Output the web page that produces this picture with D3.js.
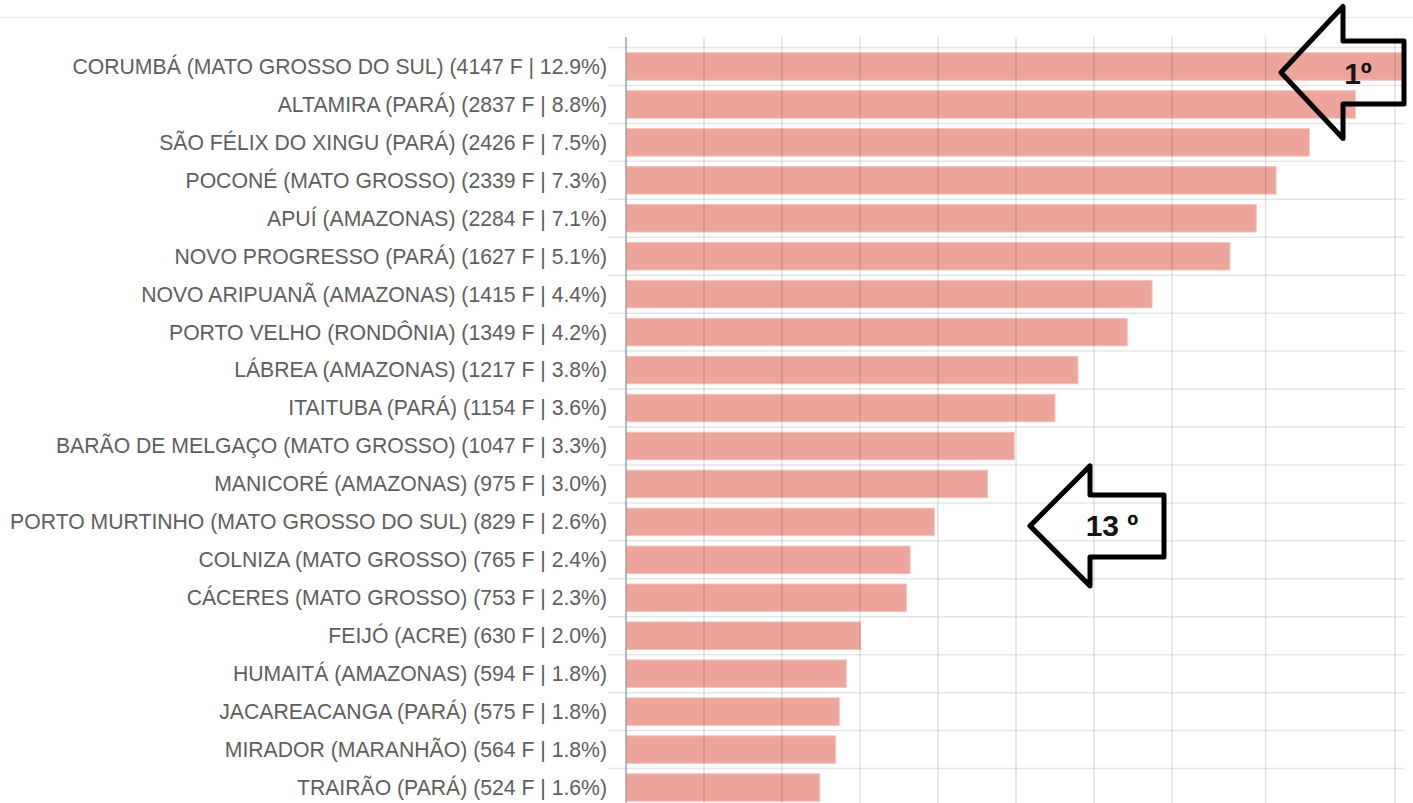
<!DOCTYPE html>
<html>
<head>
<meta charset="utf-8">
<script src="https://cdn.jsdelivr.net/npm/d3@7"></script>
<style>
  html, body { margin: 0; padding: 0; background: #fff; }
  svg { display: block; }
</style>
</head>
<body>
<svg id="chart" width="1413" height="803"></svg>
<script>
// ---- data ----
const places = [
  "CORUMBÁ (MATO GROSSO DO SUL)", "ALTAMIRA (PARÁ)", "SÃO FÉLIX DO XINGU (PARÁ)",
  "POCONÉ (MATO GROSSO)", "APUÍ (AMAZONAS)", "NOVO PROGRESSO (PARÁ)",
  "NOVO ARIPUANÃ (AMAZONAS)", "PORTO VELHO (RONDÔNIA)", "LÁBREA (AMAZONAS)",
  "ITAITUBA (PARÁ)", "BARÃO DE MELGAÇO (MATO GROSSO)", "MANICORÉ (AMAZONAS)",
  "PORTO MURTINHO (MATO GROSSO DO SUL)", "COLNIZA (MATO GROSSO)", "CÁCERES (MATO GROSSO)",
  "FEIJÓ (ACRE)", "HUMAITÁ (AMAZONAS)", "JACAREACANGA (PARÁ)",
  "MIRADOR (MARANHÃO)", "TRAIRÃO (PARÁ)"
];
const fires = [4147, 2837, 2426, 2339, 2284, 1627, 1415, 1349, 1217, 1154,
               1047, 975, 829, 765, 753, 630, 594, 575, 564, 524];
const shares = ["12.9", "8.8", "7.5", "7.3", "7.1", "5.1", "4.4", "4.2", "3.8", "3.6",
                "3.3", "3.0", "2.6", "2.4", "2.3", "2.0", "1.8", "1.8", "1.8", "1.6"];
// bar lengths (axis units)
const barValues = [5000, 4675, 4380, 4167, 4040, 3871, 3372, 3213, 2897, 2750,
                   2489, 2317, 1976, 1821, 1797, 1504, 1412, 1367, 1344, 1242];
const gridTicks = [500, 1000, 1500, 2000, 2500, 3000, 3500, 4100, 4930];
const rankMarks = [{idx: 0, text: "1º"}, {idx: 12, text: "13 º"}];

// ---- layout ----
const svg = d3.select("#chart");
const x0 = 626, xEnd = 1405, yTop = 37, yBottom = 803;
const labels = places.map((p, i) => `${p} (${fires[i]} F | ${shares[i]}%)`);

const x = d3.scaleLinear().domain([0, 5000]).range([x0, x0 + 780]);
const y = d3.scaleBand().domain(labels).range([47.5, 806.5]).paddingInner(0.275).paddingOuter(0.1375);
const step = y.step(), halfGap = step * y.paddingInner() / 2;

// faint top rule
svg.append("line").attr("x1", 0).attr("x2", 1413).attr("y1", 17.5).attr("y2", 17.5)
  .attr("stroke", "#eeeeee").attr("stroke-width", 1.5);

svg.append("defs").append("clipPath").attr("id", "panel")
  .append("rect").attr("x", x0).attr("y", yTop).attr("width", xEnd - x0).attr("height", yBottom - yTop);

// horizontal grid lines at band boundaries
const hLines = labels.map(l => y(l) - halfGap);
svg.append("g").selectAll("line").data(hLines).join("line")
  .attr("x1", 608).attr("x2", xEnd)
  .attr("y1", d => d).attr("y2", d => d)
  .attr("stroke", "#e6e6e6").attr("stroke-width", 1.5);

// bars
svg.append("g").attr("clip-path", "url(#panel)")
  .selectAll("rect").data(barValues).join("rect")
  .attr("x", x(0))
  .attr("y", (d, i) => y(labels[i]))
  .attr("width", d => x(d) - x(0))
  .attr("height", y.bandwidth())
  .attr("fill", "#eca49b")
  .attr("stroke", "#f3c3bd")
  .attr("stroke-width", 1);

// vertical grid lines (drawn over bars)
svg.append("g").selectAll("line").data(gridTicks).join("line")
  .attr("x1", d => x(d)).attr("x2", d => x(d))
  .attr("y1", yTop).attr("y2", yBottom)
  .attr("stroke", "rgba(0,0,0,0.12)").attr("stroke-width", 1.5);

// axis line
svg.append("line").attr("x1", x0).attr("x2", x0).attr("y1", yTop).attr("y2", yBottom)
  .attr("stroke", "#8a8a8a").attr("stroke-width", 1.2);

// category labels
svg.append("g").selectAll("text").data(labels).join("text")
  .attr("x", 607)
  .attr("y", d => y(d) + y.bandwidth() / 2)
  .attr("dy", "0.35em")
  .attr("text-anchor", "end")
  .attr("font-family", "'Liberation Sans', Arial, sans-serif")
  .attr("font-size", 21.2)
  .attr("fill", "#5e5e5e")
  .text(d => d);

// rank arrows (positioned relative to the rows they annotate)
function arrowPath(tipX, cy, headW, headH, shaftW, shaftH) {
  const hx = tipX + headW;
  return `M${tipX},${cy} L${hx},${cy - headH / 2} L${hx},${cy - shaftH / 2} L${hx + shaftW},${cy - shaftH / 2} ` +
         `L${hx + shaftW},${cy + shaftH / 2} L${hx},${cy + shaftH / 2} L${hx},${cy + headH / 2} Z`;
}
const arrowSpec = [
  {tipX: 1281, dy: 6, headW: 62, headH: 132, shaftW: 61, shaftH: 63, tx: 1358, tdy: 16},
  {tipX: 1030, dy: 4, headW: 60, headH: 120, shaftW: 74, shaftH: 62, tx: 1112, tdy: 14}
];
rankMarks.forEach((m, k) => {
  const s = arrowSpec[k];
  const cy = y(labels[m.idx]) + y.bandwidth() / 2 + s.dy;
  svg.append("path").attr("d", arrowPath(s.tipX, cy, s.headW, s.headH, s.shaftW, s.shaftH))
    .attr("fill", "none").attr("stroke", "#000").attr("stroke-width", 5)
    .attr("stroke-linejoin", "round");
  svg.append("text").attr("x", s.tx).attr("y", cy + s.tdy - 4)
    .attr("text-anchor", "middle")
    .attr("font-family", "'Liberation Sans', Arial, sans-serif")
    .attr("font-weight", "bold").attr("font-size", 30)
    .attr("fill", "#151515").text(m.text);
});
</script>
</body>
</html>
